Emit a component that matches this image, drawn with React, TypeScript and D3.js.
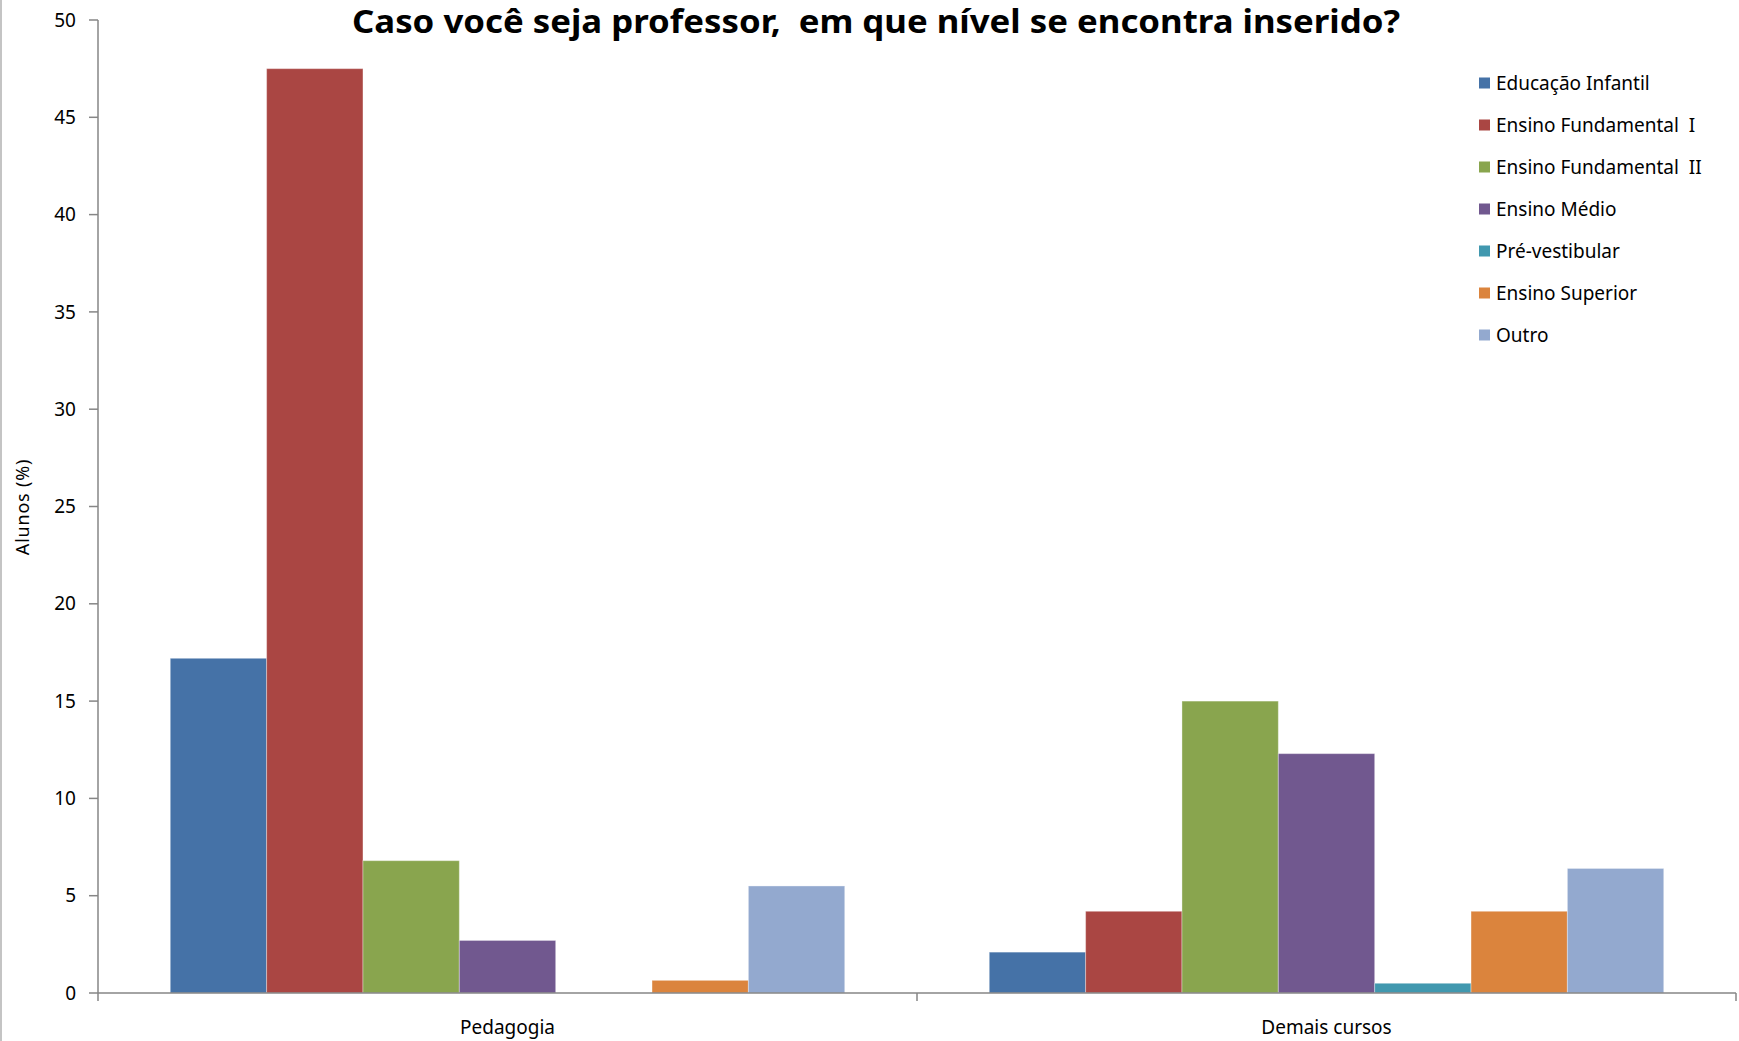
import React from "react";
import * as d3 from "d3";

const categories = ["Pedagogia", "Demais cursos"];
const seriesNames = [
  "Educação Infantil",
  "Ensino Fundamental  I",
  "Ensino Fundamental  II",
  "Ensino Médio",
  "Pré-vestibular",
  "Ensino Superior",
  "Outro",
];
const seriesColors = ["#4572A7", "#AA4643", "#89A54E", "#71588F", "#4198AF", "#DB843D", "#93A9CF"];
const pedagogiaValues = [17.2, 47.5, 6.8, 2.7, 0, 0.65, 5.5];
const demaisValues = [2.1, 4.2, 15.0, 12.3, 0.5, 4.2, 6.4];
const yTicks = [0, 5, 10, 15, 20, 25, 30, 35, 40, 45, 50];
const title = "Caso você seja professor,  em que nível se encontra inserido?";
const yLabel = "Alunos (%)";

const W = 1739;
const H = 1041;
const plotLeft = 98;
const plotRight = 1736;
const plotTop = 20;
const plotBottom = 993;

export default function App() {
  const values = [pedagogiaValues, demaisValues];
  const x0 = d3.scaleBand<string>().domain(categories).range([plotLeft, plotRight]).paddingInner(0).paddingOuter(0);
  const bw = x0.bandwidth();
  const barW = bw / (seriesNames.length + 1.5);
  const x1 = d3
    .scaleBand<string>()
    .domain(seriesNames)
    .range([0.75 * barW, bw - 0.75 * barW])
    .padding(0);
  const y = d3.scaleLinear().domain([0, 50]).range([plotBottom, plotTop]);
  const axisColor = "#868686";
  const font = "'Noto Sans', 'Open Sans', sans-serif";

  return (
    <svg
      width={W}
      height={H}
      style={{ position: "absolute", left: 0, top: 0, background: "#fff" }}
      xmlns="http://www.w3.org/2000/svg"
    >
      <rect x={0} y={0} width={W} height={H} fill="#fff" />
      <line x1={1} y1={0} x2={1} y2={H} stroke="#b0b0b0" strokeWidth={1.5} />

      {/* title */}
      <text
        x={876}
        y={33}
        textAnchor="middle"
        fontFamily={font}
        fontWeight="bold"
        fontSize={32}
        textLength={1048}
        lengthAdjust="spacingAndGlyphs"
        style={{ whiteSpace: "pre" }}
        fill="#000"
      >
        {title}
      </text>

      {/* bars */}
      {categories.map((c, ci) => (
        <g key={c} transform={`translate(${x0(c)},0)`}>
          {seriesNames.map((s, si) => {
            const v = values[ci][si];
            if (v <= 0) return null;
            return (
              <rect
                key={s}
                x={x1(s)}
                y={y(v)}
                width={x1.bandwidth()}
                height={plotBottom - y(v)}
                fill={seriesColors[si]}
                stroke="rgba(255,255,255,0.35)"
                strokeWidth={1}
              />
            );
          })}
        </g>
      ))}

      {/* y axis */}
      <line x1={plotLeft} y1={plotTop} x2={plotLeft} y2={plotBottom} stroke={axisColor} strokeWidth={1.5} />
      {yTicks.map((t) => (
        <g key={t}>
          <line x1={plotLeft - 9} x2={plotLeft} y1={y(t)} y2={y(t)} stroke={axisColor} strokeWidth={1.5} />
          <text
            x={plotLeft - 22}
            y={y(t)}
            dy="0.35em"
            textAnchor="end"
            fontFamily={font}
            fontSize={19}
            fill="#000"
          >
            {t}
          </text>
        </g>
      ))}
      <text
        transform={`translate(29,507) rotate(-90)`}
        textAnchor="middle"
        fontFamily={font}
        fontSize={18}
        letterSpacing={0.8}
        fill="#000"
      >
        {yLabel}
      </text>

      {/* x axis */}
      <line x1={plotLeft} y1={plotBottom} x2={plotRight} y2={plotBottom} stroke={axisColor} strokeWidth={1.5} />
      {[plotLeft, x0(categories[1]) as number, plotRight].map((xv, i) => (
        <line key={i} x1={xv} x2={xv} y1={plotBottom} y2={plotBottom + 8} stroke={axisColor} strokeWidth={1.5} />
      ))}
      {categories.map((c) => (
        <text
          key={c}
          x={(x0(c) as number) + bw / 2}
          y={1034}
          textAnchor="middle"
          fontFamily={font}
          fontSize={19}
          fill="#000"
        >
          {c}
        </text>
      ))}

      {/* legend */}
      {seriesNames.map((s, i) => {
        const cy = 83 + i * 42;
        return (
          <g key={s}>
            <rect x={1479} y={cy - 5.5} width={11} height={11} fill={seriesColors[i]} />
            <text
              x={1496}
              y={cy}
              dy="0.35em"
              fontFamily={font}
              fontSize={19}
              style={{ whiteSpace: "pre" }}
              fill="#000"
            >
              {s}
            </text>
          </g>
        );
      })}
    </svg>
  );
}
